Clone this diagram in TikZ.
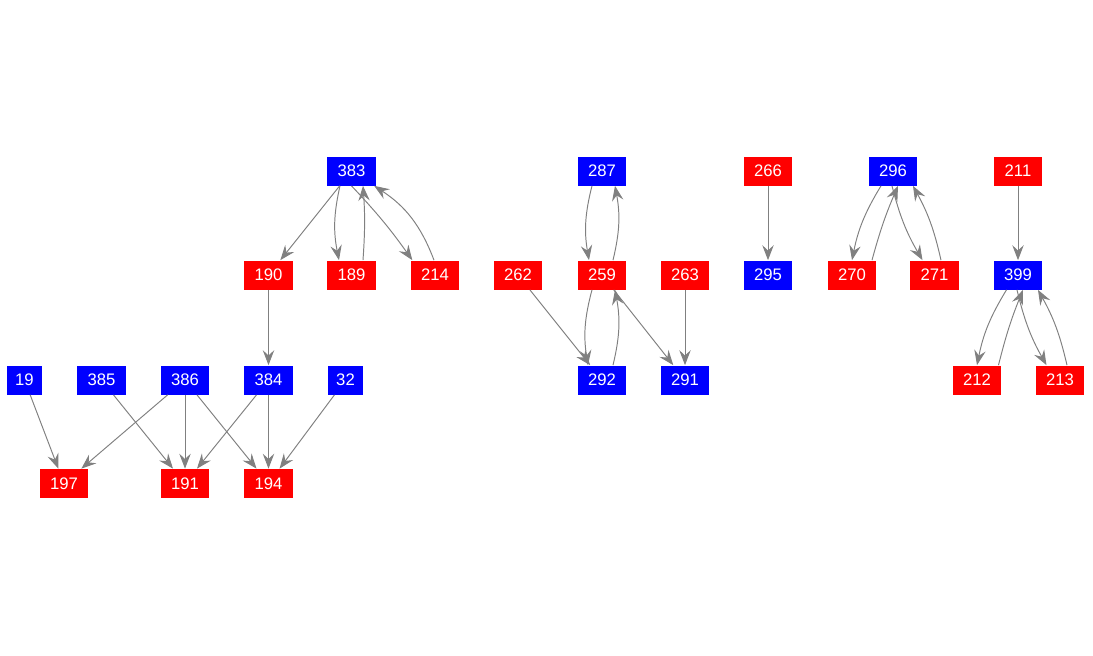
\documentclass[tikz,border=0pt]{standalone}
\usepackage{fontspec}
\setmainfont{Liberation Sans}
\usepackage{tikz}
\usetikzlibrary{arrows.meta,calc}

\begin{document}
\begin{tikzpicture}[x=0.02cm,y=-0.02cm,
box/.style={inner sep=0pt,minimum width=0.974cm,minimum height=0.58cm,text=white,font=\fontsize{9.5}{11}\selectfont},
bl/.style={box,fill=blue},
rd/.style={box,fill=red},
nar/.style={minimum width=0.694cm},
edge/.style={draw=gray,line width=0.55pt,-{Stealth[length=8.5pt,width=6.5pt,inset=3pt]}}]
\useasboundingbox (0,0) rectangle (1093,656);

\node[bl] (n383) at (351.5,171) {383};
\node[rd] (n190) at (268.5,275) {190};
\node[rd] (n189) at (351.5,275) {189};
\node[rd] (n214) at (435,275) {214};
\node[bl,nar] (n19) at (24.5,380) {19};
\node[bl] (n385) at (101.5,380) {385};
\node[bl] (n386) at (185,380) {386};
\node[bl] (n384) at (268.5,380) {384};
\node[bl,nar] (n32) at (345.5,380) {32};
\node[rd] (n197) at (64,483.5) {197};
\node[rd] (n191) at (185,483.5) {191};
\node[rd] (n194) at (268.5,483.5) {194};

\node[bl] (n287) at (602,171) {287};
\node[rd] (n262) at (518,275) {262};
\node[rd] (n259) at (602,275) {259};
\node[rd] (n263) at (685,275) {263};
\node[bl] (n292) at (602,380) {292};
\node[bl] (n291) at (685,380) {291};
\node[rd] (n266) at (768,171) {266};
\node[bl] (n295) at (768,275) {295};
\node[bl] (n296) at (893,171) {296};
\node[rd] (n270) at (852,275) {270};
\node[rd] (n271) at (934.5,275) {271};
\node[rd] (n211) at (1018,171) {211};
\node[bl] (n399) at (1018,275) {399};
\node[rd] (n212) at (977,380) {212};
\node[rd] (n213) at (1060,380) {213};

\draw[edge] (n383) -- (n190);
\draw[edge] ($(n383.south)+(-11.5,0)$) to[bend right=12] ($(n189.north)+(-12.5,0)$);
\draw[edge] ($(n189.north)+(11.5,0)$) to[bend right=4] ($(n383.south)+(11.5,0)$);
\draw[edge] (n383.south) to[bend left=4] ($(n214.north west)+(2,0)$);
\draw[edge] ($(n214.north)+(-1,0)$) to[bend right=18] ($(n383.south east)+(-2,0)$);
\draw[edge] (n190) -- (n384);
\draw[edge] (n19) -- (n197);
\draw[edge] (n386) -- (n197);
\draw[edge] (n385) -- (n191);
\draw[edge] (n386) -- (n191);
\draw[edge] (n386) -- (n194);
\draw[edge] (n384) -- (n191);
\draw[edge] (n384) -- (n194);
\draw[edge] (n32) -- (n194);

\draw[edge] ($(n287.south)+(-10,0)$) to[bend right=12] ($(n259.north)+(-13,0)$);
\draw[edge] ($(n259.north)+(11,0)$) to[bend right=12] ($(n287.south)+(13,0)$);
\draw[edge] ($(n259.south)+(-10,0)$) to[bend right=12] ($(n292.north)+(-14,0)$);
\draw[edge] ($(n292.north)+(11,0)$) to[bend right=12] ($(n259.south)+(13,0)$);
\draw[edge] (n262) -- (n292);
\draw[edge] (n259) -- (n291);
\draw[edge] (n263) -- (n291);
\draw[edge] (n266) -- (n295);

\draw[edge] ($(n296.south)+(-12,0)$) to[bend right=10] (n270.north);
\draw[edge] ($(n270.north)+(20,0)$) to[bend left=4] ($(n296.south)+(5,0)$);
\draw[edge] ($(n296.south)+(-1,0)$) to[bend right=8] ($(n271.north)+(-12,0)$);
\draw[edge] ($(n271.north)+(6.5,0)$) to[bend right=8] ($(n296.south)+(20,0)$);

\draw[edge] (n211) -- (n399);
\draw[edge] ($(n399.south)+(-11.5,0)$) to[bend right=10] (n212.north);
\draw[edge] ($(n212.north)+(21.5,0)$) to[bend left=4] ($(n399.south)+(5,0)$);
\draw[edge] ($(n399.south)+(-1,0)$) to[bend right=8] ($(n213.north)+(-13.5,0)$);
\draw[edge] ($(n213.north)+(7,0)$) to[bend right=8] ($(n399.south)+(20,0)$);
\end{tikzpicture}
\end{document}
